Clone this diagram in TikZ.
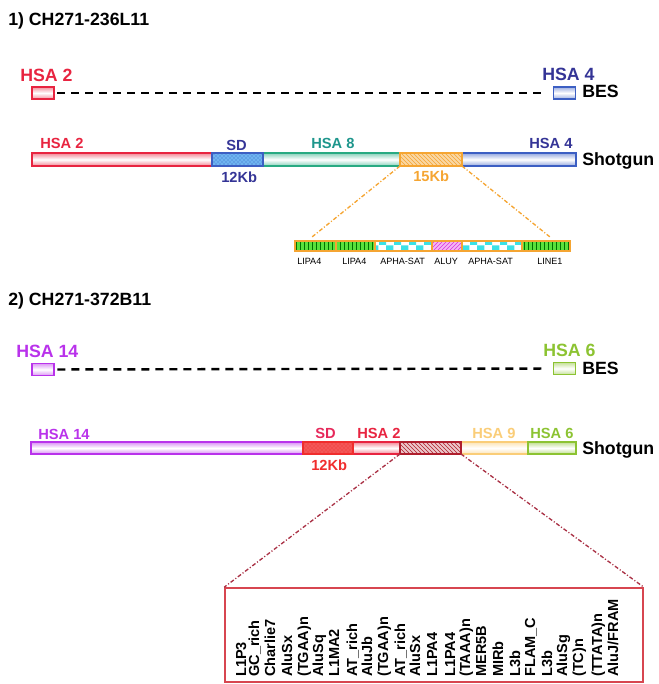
\documentclass[tikz,border=0pt]{standalone}
\usepackage{fontspec}
\setmainfont{Liberation Sans}
\usetikzlibrary{patterns}
\definecolor{hsaRed}{RGB}{232,36,64}
\definecolor{hsaBlue}{RGB}{52,52,150}
\definecolor{barBlue}{RGB}{60,95,195}
\definecolor{sdBlue}{RGB}{110,180,240}
\definecolor{hsaTeal}{RGB}{30,150,140}
\definecolor{barTeal}{RGB}{40,170,130}
\definecolor{hsaOrange}{RGB}{245,165,50}
\definecolor{hsaPurple}{RGB}{185,50,235}
\definecolor{hsaGreen}{RGB}{140,195,50}
\definecolor{hsaYellow}{RGB}{250,205,120}
\definecolor{hatchRed}{RGB}{175,30,45}
\definecolor{sdRed}{RGB}{240,45,45}
\definecolor{sdPink}{RGB}{230,40,90}
\definecolor{boxRed}{RGB}{215,70,80}
\definecolor{zoomRed}{RGB}{170,50,70}
\definecolor{lipaGreen}{RGB}{90,225,60}
\definecolor{apCyan}{RGB}{60,225,230}
\definecolor{aluMagenta}{RGB}{220,50,220}
\newcommand{\mySegment}[5]{%%
  %% One piece of a bar, from x=#2 to x=#3, centred on y=#4.
  \node[segBase,#5,minimum width={(#3-#2)*0.75pt}] (#1) at ({(#2+#3)/2},#4) {};
}

\begin{document}
\begin{tikzpicture}[%%
  x=0.75pt,y=-0.75pt,
  segBase/.style={rectangle,draw,inner sep=0pt,outer sep=0pt,line width=1.1pt,
    minimum height={\barHeight*0.75pt}},
  tubeStyle/.style={draw=#1,top color=#1!55,bottom color=#1!55,middle color=white},
  dotsStyle/.style 2 args={draw=#1,preaction={fill=#2},pattern=crosshatch dots,pattern color=#1},
  hatchStyle/.style 2 args={draw=#1,preaction={fill=#2},pattern=north west lines,pattern color=#1},
  greenRep/.style={draw=hsaOrange,line width=0.8pt,preaction={fill=lipaGreen},
    pattern=vertical lines,pattern color=green!45!black},
  cyanRep/.style={draw=hsaOrange,line width=0.8pt,preaction={fill=white},
    pattern=checkerboard,pattern color=apCyan},
  magentaRep/.style={draw=hsaOrange,line width=0.8pt,preaction={fill=aluMagenta!35},
    pattern=north east lines,pattern color=aluMagenta},
  besBox/.style={draw=#1,line width=1.1pt,top color=#1!50,bottom color=#1!50,middle color=white,
    minimum width=16.5pt,minimum height=9pt,inner sep=0pt},
  besLine/.style={line width=1.8pt,dash pattern=on 6pt off 4.5pt,shorten <=2pt,shorten >=6pt},
  zoomLine/.style={#1,line width=1pt,dash pattern=on 3pt off 1.5pt on 0.8pt off 1.5pt},
  titleStyle/.style={anchor=base west,inner sep=0pt,font=\bfseries\fontsize{13.3}{14}\selectfont},
  bigLabel/.style={anchor=base west,inner sep=0pt,font=\bfseries\fontsize{13.3}{14}\selectfont},
  midLabel/.style={anchor=base west,inner sep=0pt,font=\bfseries\fontsize{11}{12}\selectfont},
  smallLabel/.style={anchor=base west,inner sep=0pt,font=\fontsize{6.8}{7}\selectfont},
  repLabel/.style={anchor=base west,rotate=90,inner sep=0pt,font=\bfseries\fontsize{10.9}{11}\selectfont}
]
\useasboundingbox (0,0) rectangle (659,684);
%%
%%
%% Clone 1) CH271-236L11.
\node[titleStyle] (titleOne) at (8,26) {1) CH271-236L11};
%%
%% The two BES ends.
\node[besBox=hsaRed] (besOneL) at (43,93) {};
\node[besBox=barBlue] (besOneR) at (564.5,93) {};
\draw[besLine] (besOneL) -- (besOneR);
\node[bigLabel,text=hsaRed] (besOneLabL) at (20,82) {HSA 2};
\node[bigLabel,text=hsaBlue] (besOneLabR) at (542,81) {HSA 4};
\node[bigLabel] (besOneTag) at (582,98) {BES};
%%
%% The shotgun bar.
\pgfmathsetmacro{\barHeight}{13}
\mySegment{shotOneA}{32}{212}{159.5}{tubeStyle=hsaRed}
\mySegment{shotOneC}{263}{400}{159.5}{tubeStyle=barTeal}
\mySegment{shotOneE}{462}{576}{159.5}{tubeStyle=barBlue}
\mySegment{shotOneB}{212}{263}{159.5}{dotsStyle={barBlue}{sdBlue}}
\mySegment{shotOneD}{400}{462}{159.5}{hatchStyle={hsaOrange}{hsaOrange!45}}
\node[midLabel,text=hsaRed] (shotOneLabA) at (40,149) {HSA 2};
\node[midLabel,text=hsaBlue] (shotOneLabB) at (226,151) {SD};
\node[midLabel,text=hsaBlue] (shotOneKb) at (221,183) {12Kb};
\node[midLabel,text=hsaTeal] (shotOneLabC) at (311,149) {HSA 8};
\node[midLabel,text=hsaOrange] (shotOneKbD) at (413,181) {15Kb};
\node[midLabel,text=hsaBlue] (shotOneLabE) at (529,149) {HSA 4};
\node[bigLabel] (shotOneTag) at (582,166) {Shotgun};
%%
%% The 15Kb piece, opened up.
\coordinate (detailOneL) at (312,237);
\coordinate (detailOneR) at (550,237);
\draw[zoomLine=hsaOrange] (shotOneD.south west) -- (detailOneL);
\draw[zoomLine=hsaOrange] (shotOneD.south east) -- (detailOneR);
\pgfmathsetmacro{\barHeight}{10}
\mySegment{repOneA}{295}{336}{246}{greenRep}
\mySegment{repOneB}{336}{375}{246}{greenRep}
\mySegment{repOneC}{375}{432}{246}{cyanRep}
\mySegment{repOneD}{432}{462}{246}{magentaRep}
\mySegment{repOneE}{462}{522}{246}{cyanRep}
\mySegment{repOneF}{522}{570}{246}{greenRep}
\node[smallLabel] (repOneLabA) at (297,264) {LIPA4};
\node[smallLabel] (repOneLabB) at (342,264) {LIPA4};
\node[smallLabel] (repOneLabC) at (380,264) {APHA-SAT};
\node[smallLabel] (repOneLabD) at (434,264) {ALUY};
\node[smallLabel] (repOneLabE) at (468,264) {APHA-SAT};
\node[smallLabel] (repOneLabF) at (537,264) {LINE1};
%%
%%
%% Clone 2) CH271-372B11.
\node[titleStyle] (titleTwo) at (8,305) {2) CH271-372B11};
%%
%% The two BES ends.
\node[besBox=hsaPurple] (besTwoL) at (43,369.5) {};
\node[besBox=hsaGreen] (besTwoR) at (564.5,368.5) {};
\draw[besLine] (besTwoL) -- (besTwoR);
\node[bigLabel,text=hsaPurple] (besTwoLabL) at (16,357) {HSA 14};
\node[bigLabel,text=hsaGreen] (besTwoLabR) at (543,356) {HSA 6};
\node[bigLabel] (besTwoTag) at (582,374) {BES};
%%
%% The shotgun bar.
\pgfmathsetmacro{\barHeight}{12}
\mySegment{shotTwoA}{31}{303}{448}{tubeStyle=hsaPurple}
\mySegment{shotTwoC}{353}{400}{448}{tubeStyle=hsaRed}
\mySegment{shotTwoE}{461}{528}{448}{tubeStyle=hsaYellow}
\mySegment{shotTwoF}{528}{576}{448}{tubeStyle=hsaGreen}
\mySegment{shotTwoB}{303}{353}{448}{dotsStyle={sdRed}{sdRed!80}}
\mySegment{shotTwoD}{400}{461}{448}{hatchStyle={hatchRed}{hatchRed!25}}
\node[midLabel,text=hsaPurple] (shotTwoLabA) at (38,439) {HSA 14};
\node[midLabel,text=sdPink] (shotTwoLabB) at (315,438) {SD};
\node[midLabel,text=sdRed] (shotTwoKb) at (311,470) {12Kb};
\node[midLabel,text=hsaRed] (shotTwoLabC) at (357,438) {HSA 2};
\node[midLabel,text=hsaYellow] (shotTwoLabE) at (472,438) {HSA 9};
\node[midLabel,text=hsaGreen] (shotTwoLabF) at (530,438) {HSA 6};
\node[bigLabel] (shotTwoTag) at (582,454) {Shotgun};
%%
%% The hatched piece, opened up.
\node[draw=boxRed,line width=1.2pt,inner sep=0pt,
  minimum width=313.5pt,minimum height=70.5pt] (repBox) at (434,635) {};
\draw[zoomLine=zoomRed] (shotTwoD.south west) -- (repBox.north west);
\draw[zoomLine=zoomRed] (shotTwoD.south east) -- (repBox.north east);
\node[repLabel] (repA) at (246,677) {L1P3};
\node[repLabel] (repB) at (259,677) {GC\_rich};
\node[repLabel] (repC) at (275,677) {Charlie7};
\node[repLabel] (repD) at (292,677) {AluSx};
\node[repLabel] (repE) at (308,677) {(TGAA)n};
\node[repLabel] (repF) at (323,677) {AluSq};
\node[repLabel] (repG) at (339,677) {L1MA2};
\node[repLabel] (repH) at (357,677) {AT\_rich};
\node[repLabel] (repI) at (372,677) {AluJb};
\node[repLabel] (repJ) at (388,677) {(TGAA)n};
\node[repLabel] (repK) at (405,677) {AT\_rich};
\node[repLabel] (repL) at (420,677) {AluSx};
\node[repLabel] (repM) at (437,677) {L1PA4};
\node[repLabel] (repN) at (455,677) {L1PA4};
\node[repLabel] (repO) at (470,677) {(TAAA)n};
\node[repLabel] (repP) at (486,677) {MER5B};
\node[repLabel] (repQ) at (503,677) {MIRb};
\node[repLabel] (repR) at (520,677) {L3b};
\node[repLabel] (repS) at (535,677) {FLAM\_C};
\node[repLabel] (repT) at (552,677) {L3b};
\node[repLabel] (repU) at (567,677) {AluSg};
\node[repLabel] (repV) at (583,677) {(TC)n};
\node[repLabel] (repW) at (602,677) {(TTATA)n};
\node[repLabel] (repX) at (618,677) {AluJ/FRAM};
\end{tikzpicture}
\end{document}
